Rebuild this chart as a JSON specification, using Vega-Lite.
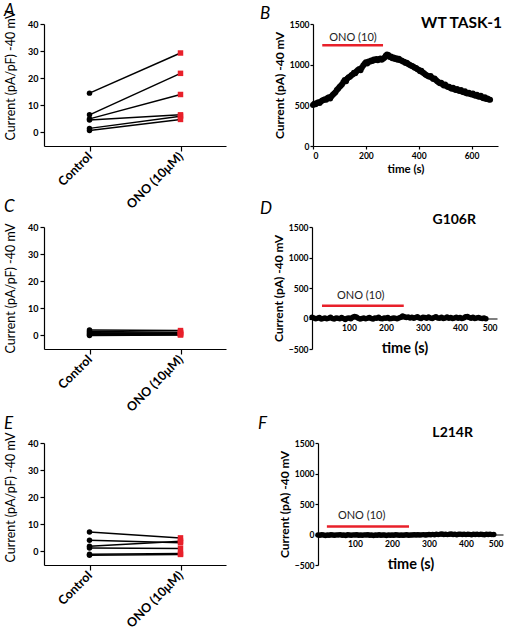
{
"$schema": "https://vega.github.io/schema/vega-lite/v6.json",
"padding": {"left": 4, "top": 2, "right": 0, "bottom": 0},
"background": "white",
"config": {
  "font": "Lato",
  "view": {"stroke": null},
  "axis": {"domainColor": "black", "tickColor": "black", "labelColor": "black", "titleColor": "black", "labelFont": "Lato", "titleFont": "Lato", "grid": false, "domainWidth": 1.2, "tickWidth": 1.2, "labelFontWeight": "bold", "labelOverlap": false, "labelBound": false, "labelSeparation": 0},
  "axisY": {"labelOverlap": false, "labelFlush": false, "zindex": 1},
  "axisQuantitative": {"labelOverlap": false},
  "title": {"anchor": "start", "frame": "group", "fontSize": 17, "fontStyle": "italic", "fontWeight": "normal", "font": "Lato", "color": "black", "offset": 0}
},
"datasets": {
  "A": [
    {"cell": 1, "cond": "Control", "v": 14.5}, {"cell": 1, "cond": "ONO (10μM)", "v": 29.3},
    {"cell": 2, "cond": "Control", "v": 6.5}, {"cell": 2, "cond": "ONO (10μM)", "v": 21.8},
    {"cell": 3, "cond": "Control", "v": 5.0}, {"cell": 3, "cond": "ONO (10μM)", "v": 14.0},
    {"cell": 4, "cond": "Control", "v": 4.6}, {"cell": 4, "cond": "ONO (10μM)", "v": 6.5},
    {"cell": 5, "cond": "Control", "v": 1.5}, {"cell": 5, "cond": "ONO (10μM)", "v": 6.0},
    {"cell": 6, "cond": "Control", "v": 0.7}, {"cell": 6, "cond": "ONO (10μM)", "v": 4.8}
  ],
  "C": [
    {"cell": 1, "cond": "Control", "v": 2.0}, {"cell": 1, "cond": "ONO (10μM)", "v": 1.8},
    {"cell": 2, "cond": "Control", "v": 1.5}, {"cell": 2, "cond": "ONO (10μM)", "v": 1.2},
    {"cell": 3, "cond": "Control", "v": 1.0}, {"cell": 3, "cond": "ONO (10μM)", "v": 0.9},
    {"cell": 4, "cond": "Control", "v": 0.6}, {"cell": 4, "cond": "ONO (10μM)", "v": 0.6},
    {"cell": 5, "cond": "Control", "v": 0.3}, {"cell": 5, "cond": "ONO (10μM)", "v": 0.3},
    {"cell": 6, "cond": "Control", "v": 0.0}, {"cell": 6, "cond": "ONO (10μM)", "v": 0.2}
  ],
  "E": [
    {"cell": 1, "cond": "Control", "v": 7.2}, {"cell": 1, "cond": "ONO (10μM)", "v": 5.0},
    {"cell": 2, "cond": "Control", "v": 4.1}, {"cell": 2, "cond": "ONO (10μM)", "v": 3.2},
    {"cell": 3, "cond": "Control", "v": 1.9}, {"cell": 3, "cond": "ONO (10μM)", "v": 3.8},
    {"cell": 4, "cond": "Control", "v": 1.3}, {"cell": 4, "cond": "ONO (10μM)", "v": 1.1},
    {"cell": 5, "cond": "Control", "v": -1.0}, {"cell": 5, "cond": "ONO (10μM)", "v": -0.8},
    {"cell": 6, "cond": "Control", "v": -1.4}, {"cell": 6, "cond": "ONO (10μM)", "v": -1.1}
  ],
  "B": [
    {"t":0,"I":505},{"t":5,"I":520},{"t":10,"I":512},{"t":15,"I":530},{"t":20,"I":538},{"t":25,"I":528},{"t":30,"I":548},{"t":35,"I":560},{"t":40,"I":566},{"t":45,"I":575},
    {"t":50,"I":570},{"t":55,"I":590},{"t":60,"I":598},{"t":65,"I":585},{"t":70,"I":612},{"t":75,"I":630},{"t":80,"I":645},{"t":85,"I":662},{"t":90,"I":690},{"t":95,"I":705},
    {"t":100,"I":725},{"t":105,"I":742},{"t":110,"I":760},{"t":115,"I":788},{"t":120,"I":810},{"t":125,"I":795},{"t":130,"I":830},{"t":135,"I":845},{"t":140,"I":852},{"t":145,"I":870},
    {"t":150,"I":880},{"t":155,"I":902},{"t":160,"I":896},{"t":165,"I":920},{"t":170,"I":935},{"t":175,"I":948},{"t":180,"I":930},{"t":185,"I":965},{"t":190,"I":990},{"t":195,"I":1010},
    {"t":200,"I":1030},{"t":205,"I":1015},{"t":210,"I":1040},{"t":215,"I":1035},{"t":220,"I":1050},{"t":225,"I":1045},{"t":230,"I":1062},{"t":235,"I":1058},{"t":240,"I":1070},{"t":245,"I":1055},
    {"t":250,"I":1068},{"t":255,"I":1075},{"t":260,"I":1060},{"t":265,"I":1072},{"t":270,"I":1085},{"t":275,"I":1110},{"t":280,"I":1125},{"t":285,"I":1118},{"t":290,"I":1095},{"t":295,"I":1100},
    {"t":300,"I":1080},{"t":305,"I":1088},{"t":310,"I":1070},{"t":315,"I":1078},{"t":320,"I":1060},{"t":325,"I":1072},{"t":330,"I":1055},{"t":335,"I":1050},{"t":340,"I":1040},{"t":345,"I":1035},
    {"t":350,"I":1020},{"t":355,"I":1025},{"t":360,"I":1008},{"t":365,"I":1000},{"t":370,"I":990},{"t":375,"I":985},{"t":380,"I":975},{"t":385,"I":962},{"t":390,"I":958},{"t":395,"I":945},
    {"t":400,"I":938},{"t":405,"I":920},{"t":410,"I":925},{"t":415,"I":905},{"t":420,"I":895},{"t":425,"I":880},{"t":430,"I":870},{"t":435,"I":862},{"t":440,"I":850},{"t":445,"I":860},
    {"t":450,"I":840},{"t":455,"I":825},{"t":460,"I":830},{"t":465,"I":812},{"t":470,"I":795},{"t":475,"I":785},{"t":480,"I":770},{"t":485,"I":778},{"t":490,"I":760},{"t":495,"I":745},
    {"t":500,"I":755},{"t":505,"I":738},{"t":510,"I":725},{"t":515,"I":730},{"t":520,"I":712},{"t":525,"I":705},{"t":530,"I":715},{"t":535,"I":698},{"t":540,"I":690},{"t":545,"I":700},
    {"t":550,"I":682},{"t":555,"I":675},{"t":560,"I":688},{"t":565,"I":668},{"t":570,"I":660},{"t":575,"I":672},{"t":580,"I":650},{"t":585,"I":645},{"t":590,"I":655},{"t":595,"I":640},
    {"t":600,"I":632},{"t":605,"I":645},{"t":610,"I":625},{"t":615,"I":618},{"t":620,"I":630},{"t":625,"I":610},{"t":630,"I":605},{"t":635,"I":618},{"t":640,"I":595},{"t":645,"I":588},
    {"t":650,"I":600},{"t":655,"I":578},{"t":660,"I":585},{"t":665,"I":572},{"t":670,"I":570}
  ],
  "D": [
    {"t":0,"I":20},{"t":5,"I":10},{"t":10,"I":-5},{"t":15,"I":5},{"t":20,"I":15},{"t":25,"I":-10},{"t":30,"I":0},{"t":35,"I":10},{"t":40,"I":-5},{"t":45,"I":5},
    {"t":50,"I":20},{"t":55,"I":0},{"t":60,"I":-10},{"t":65,"I":10},{"t":70,"I":5},{"t":75,"I":-5},{"t":80,"I":15},{"t":85,"I":0},{"t":90,"I":-15},{"t":95,"I":5},
    {"t":100,"I":10},{"t":105,"I":-5},{"t":110,"I":20},{"t":115,"I":35},{"t":120,"I":25},{"t":125,"I":5},{"t":130,"I":-10},{"t":135,"I":0},{"t":140,"I":10},{"t":145,"I":-5},
    {"t":150,"I":5},{"t":155,"I":15},{"t":160,"I":0},{"t":165,"I":-10},{"t":170,"I":10},{"t":175,"I":5},{"t":180,"I":20},{"t":185,"I":0},{"t":190,"I":-5},{"t":195,"I":10},
    {"t":200,"I":5},{"t":205,"I":15},{"t":210,"I":-5},{"t":215,"I":0},{"t":220,"I":10},{"t":225,"I":5},{"t":230,"I":-5},{"t":235,"I":10},{"t":240,"I":20},{"t":245,"I":40},
    {"t":250,"I":30},{"t":255,"I":15},{"t":260,"I":25},{"t":265,"I":10},{"t":270,"I":20},{"t":275,"I":5},{"t":280,"I":15},{"t":285,"I":30},{"t":290,"I":10},{"t":295,"I":0},
    {"t":300,"I":20},{"t":305,"I":15},{"t":310,"I":5},{"t":315,"I":25},{"t":320,"I":10},{"t":325,"I":0},{"t":330,"I":15},{"t":335,"I":30},{"t":340,"I":10},{"t":345,"I":5},
    {"t":350,"I":20},{"t":355,"I":0},{"t":360,"I":10},{"t":365,"I":25},{"t":370,"I":5},{"t":375,"I":15},{"t":380,"I":0},{"t":385,"I":10},{"t":390,"I":20},{"t":395,"I":5},
    {"t":400,"I":15},{"t":405,"I":0},{"t":410,"I":10},{"t":415,"I":30},{"t":420,"I":35},{"t":425,"I":15},{"t":430,"I":5},{"t":435,"I":20},{"t":440,"I":0},{"t":445,"I":10},
    {"t":450,"I":15},{"t":455,"I":5},{"t":460,"I":0},{"t":465,"I":10},{"t":470,"I":-5}
  ],
  "F": [
    {"t":0,"I":-8},{"t":5,"I":-12},{"t":10,"I":-5},{"t":15,"I":-10},{"t":20,"I":-15},{"t":25,"I":-8},{"t":30,"I":-12},{"t":35,"I":-4},{"t":40,"I":-10},{"t":45,"I":-14},
    {"t":50,"I":-6},{"t":55,"I":-10},{"t":60,"I":-2},{"t":65,"I":-12},{"t":70,"I":-8},{"t":75,"I":-15},{"t":80,"I":-5},{"t":85,"I":-10},{"t":90,"I":-12},{"t":95,"I":-6},
    {"t":100,"I":-10},{"t":105,"I":-4},{"t":110,"I":-12},{"t":115,"I":-8},{"t":120,"I":-14},{"t":125,"I":-6},{"t":130,"I":-10},{"t":135,"I":-3},{"t":140,"I":-12},{"t":145,"I":-9},
    {"t":150,"I":-15},{"t":155,"I":-7},{"t":160,"I":-11},{"t":165,"I":-5},{"t":170,"I":-13},{"t":175,"I":-8},{"t":180,"I":-10},{"t":185,"I":-16},{"t":190,"I":-6},{"t":195,"I":-11},
    {"t":200,"I":-8},{"t":205,"I":-13},{"t":210,"I":-5},{"t":215,"I":-10},{"t":220,"I":-14},{"t":225,"I":-7},{"t":230,"I":-12},{"t":235,"I":-9},{"t":240,"I":-4},{"t":245,"I":-11},
    {"t":250,"I":-7},{"t":255,"I":-10},{"t":260,"I":-5},{"t":265,"I":-9},{"t":270,"I":-3},{"t":275,"I":-8},{"t":280,"I":-6},{"t":285,"I":-2},{"t":290,"I":-7},{"t":295,"I":-4},
    {"t":300,"I":0},{"t":305,"I":-5},{"t":310,"I":2},{"t":315,"I":-3},{"t":320,"I":4},{"t":325,"I":-2},{"t":330,"I":6},{"t":335,"I":8},{"t":340,"I":1},{"t":345,"I":5},
    {"t":350,"I":-2},{"t":355,"I":4},{"t":360,"I":7},{"t":365,"I":0},{"t":370,"I":5},{"t":375,"I":-3},{"t":380,"I":3},{"t":385,"I":6},{"t":390,"I":0},{"t":395,"I":4},
    {"t":400,"I":-2},{"t":405,"I":5},{"t":410,"I":2},{"t":415,"I":-3},{"t":420,"I":4},{"t":425,"I":0},{"t":430,"I":6},{"t":435,"I":-2},{"t":440,"I":3},{"t":445,"I":1},
    {"t":450,"I":-4},{"t":455,"I":3},{"t":460,"I":0},{"t":465,"I":4},{"t":470,"I":-2},{"t":475,"I":1}
  ],
  "onoB": [{"label": "ONO (10)", "start": 35, "end": 265, "level": 1240}],
  "onoD": [{"label": "ONO (10)", "start": 27, "end": 248, "level": 211}],
  "onoF": [{"label": "ONO (10)", "start": 24, "end": 246, "level": 130}],
  "strainB": [{"strain": "WT  TASK-1"}],
  "strainD": [{"strain": "G106R"}],
  "strainF": [{"strain": "L214R"}]
},
"spacing": -13,
"vconcat": [
  {
    "spacing": 34,
    "hconcat": [
      {
        "width": 182, "height": 122,
        "title": {"text": "A", "dx": -40, "offset": -10},
        "data": {"name": "A"},
        "encoding": {
          "x": {"field": "cond", "type": "nominal", "scale": {"type": "point", "padding": 0.5, "domain": ["Control", "ONO (10μM)"]}, "axis": {"title": null, "labelAngle": -45, "labelAlign": "right", "labelBaseline": "middle", "labelFontSize": 12.5, "tickSize": 5, "labelPadding": 3}},
          "y": {"field": "v", "type": "quantitative", "scale": {"domain": [-5, 40], "nice": false}, "axis": {"values": [0, 10, 20, 30, 40], "labelOverlap": false, "title": "Current (pA/pF) -40 mV", "titleFontSize": 12.5, "titleFontWeight": "normal", "titleY": 51, "labelFontSize": 9, "tickSize": 4, "labelPadding": 2, "titlePadding": 10}}
        },
        "layer": [
          {"mark": {"type": "line", "color": "black", "strokeWidth": 1.5}, "encoding": {"detail": {"field": "cell"}}},
          {"mark": {"type": "point", "filled": true, "opacity": 1, "size": 30}, "encoding": {"color": {"field": "cond", "type": "nominal", "scale": {"domain": ["Control", "ONO (10μM)"], "range": ["black", "#e8202a"]}, "legend": null}, "shape": {"field": "cond", "type": "nominal", "scale": {"domain": ["Control", "ONO (10μM)"], "range": ["circle", "square"]}, "legend": null}}}
        ]
      },
      {
        "width": 185, "height": 122,
        "title": {"text": "B", "dx": -53, "offset": -7},
        "resolve": {"axis": {"x": "independent", "y": "independent"}},
        "layer": [
          {"data": {"name": "B"}, "mark": {"type": "point", "filled": true, "opacity": 1, "color": "black", "size": 36},
           "encoding": {
             "x": {"field": "t", "type": "quantitative", "scale": {"domain": [0, 700], "nice": false}, "axis": {"values": [0, 200, 400, 600], "labelOverlap": false, "title": "time (s)", "titleFontSize": 11.5, "titleFontWeight": "bold", "labelFontSize": 8.5, "tickSize": 3, "titlePadding": 4}},
             "y": {"field": "I", "type": "quantitative", "scale": {"domain": [0, 1500], "nice": false}, "axis": {"values": [0, 500, 1000, 1500], "labelOverlap": false, "labelBound": false, "labelFlush": false, "zindex": 1, "format": "d", "title": "Current (pA) -40 mV", "titleFontSize": 12, "titleFontWeight": "bold", "labelFontSize": 8.5, "tickSize": 3, "labelPadding": 1, "titlePadding": 3}}
           }},
          {"data": {"name": "onoB"}, "mark": {"type": "rule", "color": "#e8202a", "strokeWidth": 2.5},
           "encoding": {
             "x": {"field": "start", "type": "quantitative", "axis": null},
             "x2": {"field": "end"},
             "y": {"field": "level", "type": "quantitative", "axis": null}
           }},
          {"data": {"name": "onoB"}, "mark": {"type": "text", "align": "left", "baseline": "alphabetic", "dx": 7, "dy": -4, "fontSize": 11, "font": "Lato", "color": "#222"},
           "encoding": {
             "x": {"field": "start", "type": "quantitative", "axis": null},
             "y": {"field": "level", "type": "quantitative", "axis": null},
             "text": {"field": "label"}
           }},
          {"data": {"name": "strainB"}, "mark": {"type": "text", "align": "right", "baseline": "alphabetic", "dx": 4, "dy": 4, "fontSize": 15.5, "fontWeight": "bold", "font": "Lato", "color": "black"},
           "encoding": {
             "x": {"datum": 700, "type": "quantitative", "axis": null},
             "y": {"datum": 1500, "type": "quantitative", "axis": null},
             "text": {"field": "strain"}
           }}
        ]
      }
    ]
  },
  {
    "spacing": 1,
    "vconcat": [
      {
        "spacing": 34,
        "hconcat": [
          {
            "width": 182, "height": 122,
            "title": {"text": "C", "dx": -40, "offset": 7},
            "data": {"name": "C"},
            "encoding": {
              "x": {"field": "cond", "type": "nominal", "scale": {"type": "point", "padding": 0.5, "domain": ["Control", "ONO (10μM)"]}, "axis": {"title": null, "labelAngle": -45, "labelAlign": "right", "labelBaseline": "middle", "labelFontSize": 12.5, "tickSize": 5, "labelPadding": 3}},
              "y": {"field": "v", "type": "quantitative", "scale": {"domain": [-5, 40], "nice": false}, "axis": {"values": [0, 10, 20, 30, 40], "labelOverlap": false, "title": "Current (pA/pF) -40 mV", "titleFontSize": 12.5, "titleFontWeight": "normal", "labelFontSize": 9, "tickSize": 4, "labelPadding": 2, "titlePadding": 10}}
            },
            "layer": [
              {"mark": {"type": "line", "color": "black", "strokeWidth": 1.5}, "encoding": {"detail": {"field": "cell"}}},
              {"mark": {"type": "point", "filled": true, "opacity": 1, "size": 30}, "encoding": {"color": {"field": "cond", "type": "nominal", "scale": {"domain": ["Control", "ONO (10μM)"], "range": ["black", "#e8202a"]}, "legend": null}, "shape": {"field": "cond", "type": "nominal", "scale": {"domain": ["Control", "ONO (10μM)"], "range": ["circle", "square"]}, "legend": null}}}
            ]
          },
          {
            "width": 185, "height": 122,
            "title": {"text": "D", "dx": -52, "offset": -5},
            "resolve": {"axis": {"x": "independent", "y": "independent"}},
            "layer": [
              {"data": {"name": "D"}, "mark": {"type": "point", "filled": true, "opacity": 1, "color": "black", "size": 30},
               "encoding": {
                 "x": {"field": "t", "type": "quantitative", "scale": {"domain": [0, 500], "nice": false}, "axis": {"values": [100, 200, 300, 400, 500], "labelOverlap": false, "offset": -30.5, "title": "time (s)", "titleFontSize": 14.5, "titleFontWeight": "bold", "labelFontSize": 8.5, "tickSize": 0, "labelPadding": 5, "titlePadding": 9}},
                 "y": {"field": "I", "type": "quantitative", "scale": {"domain": [-500, 1500], "nice": false}, "axis": {"values": [-500, 0, 500, 1000, 1500], "labelOverlap": false, "labelBound": false, "labelFlush": false, "zindex": 1, "format": "d", "title": "Current (pA) -40 mV", "titleFontSize": 12, "titleFontWeight": "bold", "labelFontSize": 8.5, "tickSize": 3, "labelPadding": 1, "titlePadding": 3}}
               }},
              {"data": {"name": "onoD"}, "mark": {"type": "rule", "color": "#e8202a", "strokeWidth": 2.5},
               "encoding": {
                 "x": {"field": "start", "type": "quantitative", "axis": null},
                 "x2": {"field": "end"},
                 "y": {"field": "level", "type": "quantitative", "axis": null}
               }},
              {"data": {"name": "onoD"}, "mark": {"type": "text", "align": "left", "baseline": "alphabetic", "dx": 15, "dy": -7, "fontSize": 11, "font": "Lato", "color": "#222"},
               "encoding": {
                 "x": {"field": "start", "type": "quantitative", "axis": null},
                 "y": {"field": "level", "type": "quantitative", "axis": null},
                 "text": {"field": "label"}
               }},
              {"data": {"name": "strainD"}, "mark": {"type": "text", "align": "right", "baseline": "alphabetic", "dx": -21, "dy": -3, "fontSize": 14, "fontWeight": "bold", "font": "Lato", "color": "black"},
               "encoding": {
                 "x": {"datum": 500, "type": "quantitative", "axis": null},
                 "y": {"datum": 1500, "type": "quantitative", "axis": null},
                 "text": {"field": "strain"}
               }}
            ]
          }
        ]
      },
      {
        "spacing": 32,
        "hconcat": [
          {
            "width": 182, "height": 122,
            "title": {"text": "E", "dx": -40, "offset": -1},
            "data": {"name": "E"},
            "encoding": {
              "x": {"field": "cond", "type": "nominal", "scale": {"type": "point", "padding": 0.5, "domain": ["Control", "ONO (10μM)"]}, "axis": {"title": null, "labelAngle": -45, "labelAlign": "right", "labelBaseline": "middle", "labelFontSize": 12.5, "tickSize": 5, "labelPadding": 3}},
              "y": {"field": "v", "type": "quantitative", "scale": {"domain": [-5, 40], "nice": false}, "axis": {"values": [0, 10, 20, 30, 40], "labelOverlap": false, "title": "Current (pA/pF) -40 mV", "titleFontSize": 12.5, "titleFontWeight": "normal", "titleY": 54, "labelFontSize": 9, "tickSize": 4, "labelPadding": 2, "titlePadding": 10}}
            },
            "layer": [
              {"mark": {"type": "line", "color": "black", "strokeWidth": 1.5}, "encoding": {"detail": {"field": "cell"}}},
              {"mark": {"type": "point", "filled": true, "opacity": 1, "size": 30}, "encoding": {"color": {"field": "cond", "type": "nominal", "scale": {"domain": ["Control", "ONO (10μM)"], "range": ["black", "#e8202a"]}, "legend": null}, "shape": {"field": "cond", "type": "nominal", "scale": {"domain": ["Control", "ONO (10μM)"], "range": ["circle", "square"]}, "legend": null}}}
            ]
          },
          {
            "width": 185, "height": 122,
            "title": {"text": "F", "dx": -60, "offset": -7},
            "resolve": {"axis": {"x": "independent", "y": "independent"}},
            "layer": [
              {"data": {"name": "F"}, "mark": {"type": "point", "filled": true, "opacity": 1, "color": "black", "size": 30},
               "encoding": {
                 "x": {"field": "t", "type": "quantitative", "scale": {"domain": [0, 500], "nice": false}, "axis": {"values": [100, 200, 300, 400, 500], "labelOverlap": false, "offset": -30.5, "title": "time (s)", "titleFontSize": 14.5, "titleFontWeight": "bold", "labelFontSize": 8.5, "tickSize": 0, "labelPadding": 5, "titlePadding": 9}},
                 "y": {"field": "I", "type": "quantitative", "scale": {"domain": [-500, 1500], "nice": false}, "axis": {"values": [-500, 0, 500, 1000, 1500], "labelOverlap": false, "labelBound": false, "labelFlush": false, "zindex": 1, "format": "d", "title": "Current (pA) -40 mV", "titleFontSize": 12, "titleFontWeight": "bold", "labelFontSize": 8.5, "tickSize": 3, "labelPadding": 1, "titlePadding": 3}}
               }},
              {"data": {"name": "onoF"}, "mark": {"type": "rule", "color": "#e8202a", "strokeWidth": 2.5},
               "encoding": {
                 "x": {"field": "start", "type": "quantitative", "axis": null},
                 "x2": {"field": "end"},
                 "y": {"field": "level", "type": "quantitative", "axis": null}
               }},
              {"data": {"name": "onoF"}, "mark": {"type": "text", "align": "left", "baseline": "alphabetic", "dx": 11, "dy": -8, "fontSize": 11, "font": "Lato", "color": "#222"},
               "encoding": {
                 "x": {"field": "start", "type": "quantitative", "axis": null},
                 "y": {"field": "level", "type": "quantitative", "axis": null},
                 "text": {"field": "label"}
               }},
              {"data": {"name": "strainF"}, "mark": {"type": "text", "align": "right", "baseline": "alphabetic", "dx": -30, "dy": -6, "fontSize": 14, "fontWeight": "bold", "font": "Lato", "color": "black"},
               "encoding": {
                 "x": {"datum": 500, "type": "quantitative", "axis": null},
                 "y": {"datum": 1500, "type": "quantitative", "axis": null},
                 "text": {"field": "strain"}
               }}
            ]
          }
        ]
      }
    ]
  }
]
}
